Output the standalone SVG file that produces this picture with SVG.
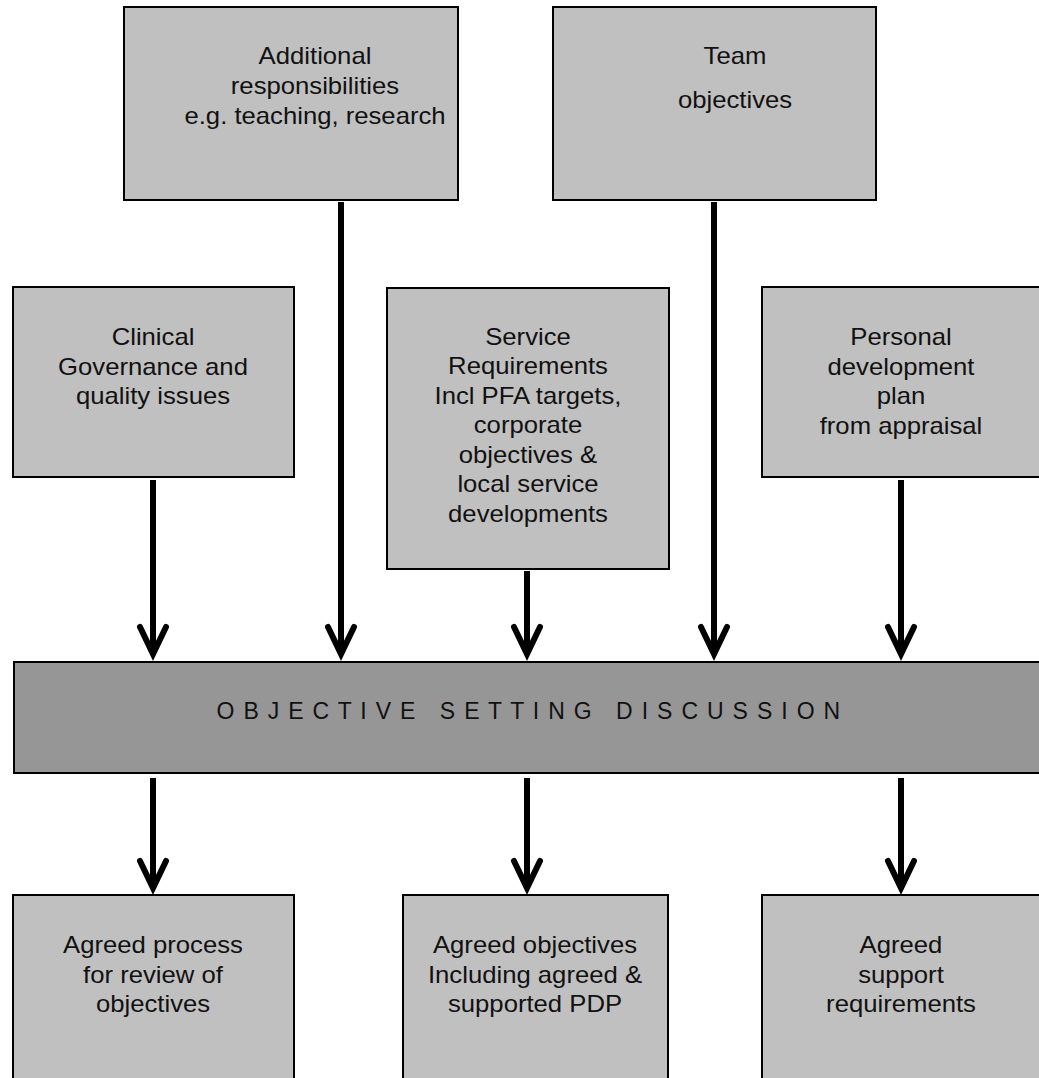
<svg xmlns="http://www.w3.org/2000/svg" width="1039" height="1078" viewBox="0 0 1039 1078">
<style>
.box{fill:#c0c0c0;stroke:#000;stroke-width:2}
.bar{fill:#969696;stroke:#000;stroke-width:2}
.t{font-family:"Liberation Sans",Arial,sans-serif;font-size:24px;fill:#111;text-anchor:middle}
.title{font-family:"Liberation Sans",Arial,sans-serif;font-size:23px;fill:#111;text-anchor:middle;letter-spacing:1.3px;white-space:pre}
.conn{stroke:#000;stroke-width:6;fill:none;marker-end:url(#head)}
</style>
<defs>
<marker id="head" markerUnits="userSpaceOnUse" viewBox="-40 -20 50 40" markerWidth="50" markerHeight="40" refX="0" refY="0" orient="auto" overflow="visible">
<path d="M-27,-13 L0,0 L-27,13" fill="none" stroke="#000" stroke-width="6" stroke-linecap="round" stroke-linejoin="miter"/>
</marker>
</defs>
<rect width="1039" height="1078" fill="#fff"/>
<g id="additional">
<rect class="box" x="124" y="7" width="334" height="193"/>
<g transform="translate(315 0) scale(1.07 1)">
<text class="t" x="0" y="64">Additional</text>
<text class="t" x="0" y="94">responsibilities</text>
<text class="t" x="0" y="124">e.g. teaching, research</text>
</g>
</g>
<g id="team">
<rect class="box" x="553" y="7" width="323" height="193"/>
<g transform="translate(735 0) scale(1.07 1)">
<text class="t" x="0" y="64">Team</text>
<text class="t" x="0" y="108">objectives</text>
</g>
</g>
<g id="clinical">
<rect class="box" x="13" y="287" width="281" height="190"/>
<g transform="translate(153 0) scale(1.07 1)">
<text class="t" x="0" y="345">Clinical</text>
<text class="t" x="0" y="375">Governance and</text>
<text class="t" x="0" y="404">quality issues</text>
</g>
</g>
<g id="service">
<rect class="box" x="387" y="288" width="282" height="281"/>
<g transform="translate(528 0) scale(1.07 1)">
<text class="t" x="0" y="345">Service</text>
<text class="t" x="0" y="374.5">Requirements</text>
<text class="t" x="0" y="404">Incl PFA targets,</text>
<text class="t" x="0" y="433.5">corporate</text>
<text class="t" x="0" y="463">objectives &amp;</text>
<text class="t" x="0" y="492.5">local service</text>
<text class="t" x="0" y="522">developments</text>
</g>
</g>
<g id="personal">
<rect class="box" x="762" y="287" width="290" height="190"/>
<g transform="translate(901 0) scale(1.07 1)">
<text class="t" x="0" y="345">Personal</text>
<text class="t" x="0" y="375">development</text>
<text class="t" x="0" y="404">plan</text>
<text class="t" x="0" y="434">from appraisal</text>
</g>
</g>
<g id="discussion">
<rect class="bar" x="14" y="662" width="1040" height="111"/>
<text class="title" x="529" y="719">O B J E C T I V E   S E T T I N G   D I S C U S S I O N</text>
</g>
<g id="review">
<rect class="box" x="13" y="895" width="281" height="200"/>
<g transform="translate(153 0) scale(1.07 1)">
<text class="t" x="0" y="953">Agreed process</text>
<text class="t" x="0" y="983">for review of</text>
<text class="t" x="0" y="1012">objectives</text>
</g>
</g>
<g id="agreed-objectives">
<rect class="box" x="403" y="895" width="265" height="200"/>
<g transform="translate(535 0) scale(1.07 1)">
<text class="t" x="0" y="953">Agreed objectives</text>
<text class="t" x="0" y="983">Including agreed &amp;</text>
<text class="t" x="0" y="1012">supported PDP</text>
</g>
</g>
<g id="support">
<rect class="box" x="762" y="895" width="290" height="200"/>
<g transform="translate(901 0) scale(1.07 1)">
<text class="t" x="0" y="953">Agreed</text>
<text class="t" x="0" y="983">support</text>
<text class="t" x="0" y="1012">requirements</text>
</g>
</g>
<g id="connectors">
<line class="conn" x1="153" y1="480" x2="153" y2="654"/>
<line class="conn" x1="341" y1="202" x2="341" y2="654"/>
<line class="conn" x1="527" y1="571" x2="527" y2="654"/>
<line class="conn" x1="714" y1="202" x2="714" y2="654"/>
<line class="conn" x1="901" y1="480" x2="901" y2="654"/>
<line class="conn" x1="153" y1="778" x2="153" y2="888"/>
<line class="conn" x1="527" y1="778" x2="527" y2="888"/>
<line class="conn" x1="901" y1="778" x2="901" y2="888"/>
</g>
</svg>
